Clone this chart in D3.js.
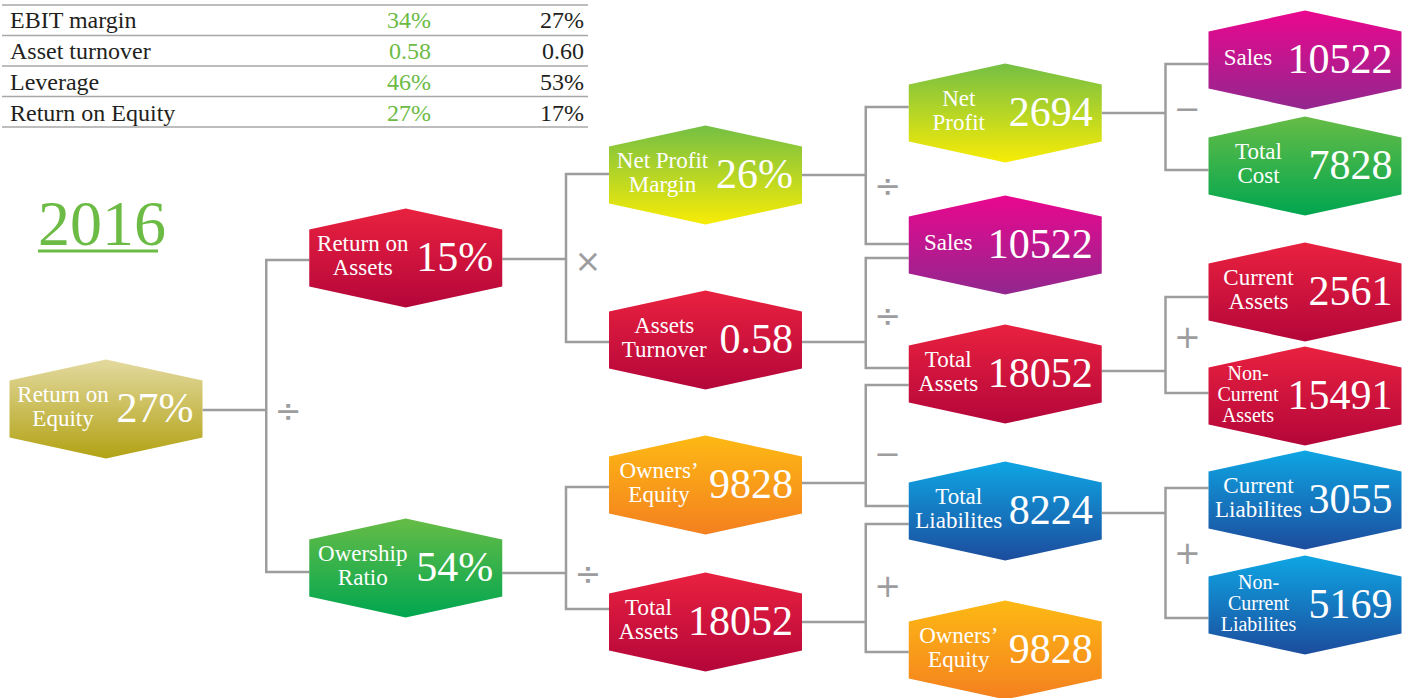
<!DOCTYPE html>
<html>
<head>
<meta charset="utf-8">
<script src="https://cdn.jsdelivr.net/npm/d3@7/dist/d3.min.js"></script>
<style>
  html, body { margin: 0; padding: 0; background: #fff; }
  svg { display: block; }
  .serif { font-family: "Liberation Serif", "Times New Roman", Times, "DejaVu Serif", serif; }
</style>
</head>
<body>
<svg id="chart" width="1410" height="698"></svg>
<script>
// ---------- data ----------
const tableMetrics  = ["EBIT margin", "Asset turnover", "Leverage", "Return on Equity"];
const tableCurrent  = ["34%", "0.58", "46%", "27%"];
const tablePrevious = ["27%", "0.60", "53%", "17%"];
const yearLabel = "2016";

const nodeIds = ["roe", "roa", "own", "npm", "at", "oe2", "ta2",
                 "np", "sales3", "ta3", "tl3", "oe3",
                 "sales4", "tc4", "ca", "nca", "cl", "ncl"];
const nodeLabels = ["Return on\nEquity", "Return on\nAssets", "Owership\nRatio",
                    "Net Profit\nMargin", "Assets\nTurnover", "Owners’\nEquity", "Total\nAssets",
                    "Net\nProfit", "Sales", "Total\nAssets", "Total\nLiabilites", "Owners’\nEquity",
                    "Sales", "Total\nCost", "Current\nAssets", "Non-\nCurrent\nAssets",
                    "Current\nLiabilites", "Non-\nCurrent\nLiabilites"];
const nodeValues = ["27%", "15%", "54%", "26%", "0.58", "9828", "18052",
                    "2694", "10522", "18052", "8224", "9828",
                    "10522", "7828", "2561", "15491", "3055", "5169"];
const nodeKinds = ["olive", "red", "green", "lime", "red", "orange", "red",
                   "lime", "magenta", "red", "blue", "orange",
                   "magenta", "green", "red", "red", "blue", "blue"];

// each group: parent = children combined with operator
const groupParents   = ["roe", "roa", "own", "npm", "at", "oe2", "ta2", "np", "ta3", "tl3"];
const groupOperators = ["÷", "×", "÷", "÷", "÷", "−", "+", "−", "+", "+"];
const groupChildren  = [["roa", "own"], ["npm", "at"], ["oe2", "ta2"], ["np", "sales3"],
                        ["sales3", "ta3"], ["ta3", "tl3"], ["tl3", "oe3"],
                        ["sales4", "tc4"], ["ca", "nca"], ["cl", "ncl"]];

// ---------- layout ----------
const nodeColumn = { roe: 0, roa: 1, own: 1, npm: 2, at: 2, oe2: 2, ta2: 2,
                     np: 3, sales3: 3, ta3: 3, tl3: 3, oe3: 3,
                     sales4: 4, tc4: 4, ca: 4, nca: 4, cl: 4, ncl: 4 };
const nodeCenterY = { roe: 409, roa: 258, own: 568, npm: 175, at: 340, oe2: 485, ta2: 622,
                      np: 113, sales3: 245, ta3: 374, tl3: 511, oe3: 650,
                      sales4: 60, tc4: 166, ca: 292, nca: 396, cl: 500, ncl: 605 };
// bracket geometry, as offsets from node centres:
// out = parent exit, entry = where each child line meets its hexagon, op = operator shift
const bracketLayout = {
  roe: { out: 1,  entry: [2, 4],    op: -5 },
  roa: { out: 1,  entry: [-1, 2],   op: 3 },
  own: { out: 5,  entry: [2, -13],  op: 26 },
  npm: { out: 0,  entry: [-6, -1],  op: 10 },
  at:  { out: 2,  entry: [13, -6],  op: 3 },
  oe2: { out: -2, entry: [11, -5],  op: 8 },
  ta2: { out: 0,  entry: [13, 2],   op: -2 },
  np:  { out: 0,  entry: [4, 4],    op: -8 },
  ta3: { out: -3, entry: [5, -3],   op: -8 },
  tl3: { out: 2,  entry: [-12, 13], op: 0 }
};
const HEX_W = 193, HEX_H = 99, HEX_S = 21;

const gradientStops = {
  olive:   ["#e3d99f", "#b2a214"],
  red:     ["#e9213f", "#b4063a"],
  lime:    ["#74bf44", "#f8ec06"],
  magenta: ["#ea078e", "#92278f"],
  green:   ["#66bc46", "#00a650"],
  orange:  ["#fdb914", "#f4801f"],
  blue:    ["#0ea6e4", "#1c4c9d"]
};
const LINE = "#9d9d9f";

const svg = d3.select("#chart");
const x = d3.scalePoint().domain([0, 1, 2, 3, 4]).range([106, 1305]);

// gradients
const defs = svg.append("defs");
Object.entries(gradientStops).forEach(([k, c]) => {
  const g = defs.append("linearGradient").attr("id", "grad-" + k)
    .attr("x1", 0).attr("y1", 0).attr("x2", 0).attr("y2", 1);
  g.append("stop").attr("offset", "0%").attr("stop-color", c[0]);
  g.append("stop").attr("offset", "100%").attr("stop-color", c[1]);
});

const nodes = nodeIds.map((id, i) => ({
  id, label: nodeLabels[i], value: nodeValues[i], kind: nodeKinds[i],
  cx: x(nodeColumn[id]), cy: nodeCenterY[id]
}));
const byId = Object.fromEntries(nodes.map(n => [n.id, n]));

// ---------- summary table ----------
const table = svg.append("g").attr("class", "summary");
const rowY = d3.scaleLinear().domain([0, 1]).range([28, 59]);
const ruleY = d3.scaleLinear().domain([0, 1]).range([5, 35.5]);
table.selectAll("line.rule").data(d3.range(tableMetrics.length + 1)).join("line")
  .attr("class", "rule")
  .attr("x1", 2).attr("x2", 588)
  .attr("y1", d => ruleY(d)).attr("y2", d => ruleY(d))
  .attr("stroke", "#a7a7a9").attr("stroke-width", 1.5);
const rows = table.selectAll("g.row").data(tableMetrics).join("g")
  .attr("class", "row serif")
  .attr("transform", (d, i) => `translate(0,${rowY(i)})`)
  .style("font-size", "24px");
rows.append("text").attr("x", 10).attr("fill", "#231f20").text(d => d);
rows.append("text").attr("x", 431).attr("text-anchor", "end").attr("fill", "#6cbb45")
  .text((d, i) => tableCurrent[i]);
rows.append("text").attr("x", 584).attr("text-anchor", "end").attr("fill", "#231f20")
  .text((d, i) => tablePrevious[i]);

// ---------- year heading ----------
svg.append("text").attr("class", "serif").attr("x", 38).attr("y", 245)
  .style("font-size", "64px").attr("fill", "#6cbb45").text(yearLabel);
svg.append("rect").attr("x", 38).attr("y", 249.5).attr("width", 120).attr("height", 3)
  .attr("fill", "#6cbb45");

// ---------- connectors ----------
const groups = groupParents.map((p, i) => ({ parent: byId[p], op: groupOperators[i],
  children: groupChildren[i].map(c => byId[c]), geo: bracketLayout[p] }));
const links = svg.append("g").attr("class", "links");
groups.forEach(g => {
  const px = g.parent.cx + HEX_W / 2;
  const childLeft = g.children[0].cx - HEX_W / 2;
  const bx = childLeft - 43;
  const outY = g.parent.cy + g.geo.out;
  const ys = g.children.map((c, i) => c.cy + g.geo.entry[i]);
  const path = d3.path();
  path.moveTo(px, outY);
  path.lineTo(bx, outY);
  path.moveTo(childLeft, ys[0]);
  path.lineTo(bx, ys[0]);
  path.lineTo(bx, ys[1]);
  path.lineTo(childLeft, ys[1]);
  links.append("path").attr("d", path.toString())
    .attr("fill", "none").attr("stroke", LINE).attr("stroke-width", 2.5);
  const oy = (ys[0] + ys[1]) / 2 + g.geo.op;
  links.append("text").attr("x", bx + 22).attr("y", oy)
    .attr("text-anchor", "middle").attr("dominant-baseline", "central")
    .style("font-family", "'DejaVu Sans', sans-serif").style("font-size", "32px")
    .attr("fill", LINE).text(g.op);
});

// ---------- hexagon nodes ----------
function hexPoints(cx, cy) {
  const l = cx - HEX_W / 2, r = cx + HEX_W / 2, t = cy - HEX_H / 2, b = cy + HEX_H / 2;
  return [[l, t + HEX_S], [cx, t], [r, t + HEX_S], [r, b - HEX_S], [cx, b], [l, b - HEX_S]];
}
const nodeG = svg.append("g").attr("class", "nodes").selectAll("g").data(nodes).join("g");
nodeG.append("polygon")
  .attr("points", d => hexPoints(d.cx, d.cy).map(p => p.join(",")).join(" "))
  .attr("fill", d => `url(#grad-${d.kind})`);

nodeG.each(function (d) {
  const g = d3.select(this);
  const right = d.cx + HEX_W / 2 - 9;
  const v = g.append("text").attr("class", "serif").attr("x", right).attr("y", d.cy + 13)
    .attr("text-anchor", "end").attr("fill", "#fff")
    .style("font-size", "42px").text(d.value);
  const valueLeft = right - v.node().getComputedTextLength();
  const lx = (d.cx - HEX_W / 2 + valueLeft) / 2;
  const lines = d.label.split("\n");
  const three = lines.length === 3;
  const lh = three ? 21 : 24;
  const y0 = d.cy + 5 - (lines.length - 1) * lh / 2;
  lines.forEach((s, i) => g.append("text").attr("class", "serif")
    .attr("text-anchor", "middle").attr("fill", "#fff")
    .style("font-size", three ? "20px" : "23px")
    .attr("x", lx).attr("y", y0 + i * lh).text(s));
});
</script>
</body>
</html>
